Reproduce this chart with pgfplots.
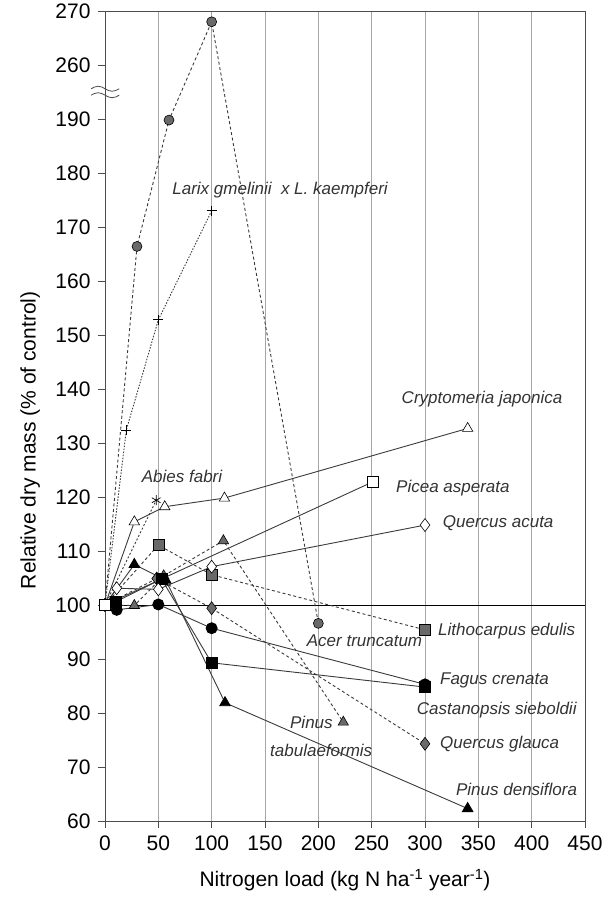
\documentclass[border=0pt]{standalone}
\usepackage{fontspec}
\setmainfont{Liberation Sans}
\usepackage{pgfplots}
\pgfplotsset{compat=1.18}
\definecolor{mgray}{HTML}{696969}
\definecolor{lcol}{HTML}{3A3A3A}
\begin{document}
\begin{tikzpicture}
\useasboundingbox (-105pt,-77pt) rectangle (504pt,821pt);
\begin{axis}[
  at={(0pt,0pt)}, anchor=south west,
  width=480pt, height=810pt, scale only axis,
  xmin=0, xmax=450, ymin=60, ymax=210,
  xtick={0,50,...,450},
  ytick={60,70,...,210},
  yticklabels={60,70,80,90,100,110,120,130,140,150,160,170,180,190,260,270},
  xmajorgrids, grid style={gray!70, line width=0.6pt},
  tick align=outside, major tick length=7pt, tick pos=left,
  axis line style={line width=0.8pt, black!70},
  tick style={black!70, line width=0.8pt},
  ticklabel style={font=\fontsize{21}{24}\selectfont},
  xticklabel style={yshift=-4pt},
  yticklabel style={xshift=-4pt},
  /pgf/number format/assume math mode=true,
  xlabel={Nitrogen load (kg N ha\textsuperscript{-1} year\textsuperscript{-1})},
  ylabel={Relative dry mass (\% of control)},
  label style={font=\fontsize{21}{24}\selectfont},
  xlabel style={at={(axis description cs:0.5,-0.073)}, anchor=center},
  ylabel style={at={(axis description cs:-0.156,0.47)}, anchor=center, rotate=0},
  clip=false,
  every axis plot/.append style={line width=0.9pt},
]
\addplot[black, line width=1pt, forget plot] coordinates {(0,100)(450,100)};
% Acer truncatum
\addplot[lcol, dash pattern=on 3pt off 2.5pt, mark=*, mark size=5pt, mark options={solid, fill=mgray, draw=black, line width=0.6pt}]
  coordinates {(0,100)(30,166.4)(60,189.8)(100,208)(200,96.6)};
% Larix
\addplot[lcol, dash pattern=on 1.5pt off 1.5pt, mark=+, mark size=5pt, mark options={solid, draw=black, line width=0.8pt}]
  coordinates {(0,100)(20,132.4)(50,152.8)(100,173)};
% Abies fabri
\addplot[lcol, dash pattern=on 2pt off 2pt, mark=asterisk, mark size=5pt, mark options={solid, draw=black, line width=0.7pt}]
  coordinates {(0,100)(48,119.4)};
% Lithocarpus edulis
\addplot[lcol, dash pattern=on 3pt off 2.5pt, mark=square*, mark size=5.5pt, mark options={solid, fill=mgray, draw=black, line width=0.6pt}]
  coordinates {(0,100)(50,111.1)(100,105.6)(300,95.4)};
% Pinus tabulaeformis
\addplot[lcol, dash pattern=on 3pt off 2.5pt, mark=triangle*, mark size=6pt, mark options={solid, fill=mgray, draw=black, line width=0.6pt}]
  coordinates {(0,100)(27.5,99.9)(55,105.4)(111,111.9)(223.4,78.3)};
% Quercus glauca
\addplot[lcol, dash pattern=on 3pt off 2.5pt, mark=diamond*, mark size=6.5pt, mark options={solid, fill=mgray, draw=black, line width=0.6pt}]
  coordinates {(0,100)(48.5,104.9)(100,99.4)(300,74.3)};
% Fagus crenata
\addplot[lcol, mark=*, mark size=5.5pt, mark options={solid, fill=black, draw=black}]
  coordinates {(0,100)(11,99.1)(50,100.1)(100,95.7)(300,85.3)};
% Castanopsis sieboldii
\addplot[lcol, mark=square*, mark size=5.5pt, mark options={solid, fill=black, draw=black}]
  coordinates {(0,100)(10,100.6)(53,104.8)(100,89.3)(300,84.8)};
% Pinus densiflora
\addplot[lcol, mark=triangle*, mark size=6pt, mark options={solid, fill=black, draw=black}]
  coordinates {(0,100)(27.5,107.5)(57,104.6)(112.5,81.9)(340,62.3)};
% Cryptomeria japonica
\addplot[lcol, mark=triangle*, mark size=6pt, mark options={solid, fill=white, draw=black, line width=0.6pt}]
  coordinates {(0,100)(27.5,115.4)(56,118.2)(112,119.8)(340,132.7)};
% Quercus acuta
\addplot[lcol, mark=diamond*, mark size=6.5pt, mark options={solid, fill=white, draw=black, line width=0.6pt}]
  coordinates {(0,100)(11,103.1)(50,102.9)(100,107.1)(300,114.8)};
% Picea asperata
\addplot[lcol, mark=square*, mark size=5.5pt, mark options={solid, fill=white, draw=black, line width=0.6pt}]
  coordinates {(251,122.8)(0,100)};
% labels
\tikzset{lab/.style={anchor=west, inner sep=0pt, text=black!80, font=\fontsize{17}{20}\selectfont\itshape}}
\node[lab] at (axis cs:63,176.9) {Larix gmelinii \ x L. kaempferi};
\node[lab] at (axis cs:278,138.1) {Cryptomeria japonica};
\node[lab] at (axis cs:34.4,123.8) {Abies fabri};
\node[lab] at (axis cs:272.8,121.7) {Picea asperata};
\node[lab] at (axis cs:316.6,115.1) {Quercus acuta};
\node[lab] at (axis cs:312.2,95.1) {Lithocarpus edulis};
\node[lab] at (axis cs:189.1,93.4) {Acer truncatum};
\node[lab] at (axis cs:314,86.1) {Fagus crenata};
\node[lab] at (axis cs:292.2,80.6) {Castanopsis sieboldii};
\node[lab] at (axis cs:173.4,78.2) {Pinus};
\node[lab] at (axis cs:154.7,73.1) {tabulaeformis};
\node[lab] at (axis cs:314,74.2) {Quercus glauca};
\node[lab] at (axis cs:329,65.9) {Pinus densiflora};
% axis break
\draw[black!70, line width=0.8pt] (axis cs:-13,195.6) sin ++(7pt,2.5pt) cos ++(7pt,-2.5pt) sin ++(7pt,-2.5pt) cos ++(7pt,2.5pt);
\draw[black!70, line width=0.8pt] (axis cs:-13,194.4) sin ++(7pt,2.5pt) cos ++(7pt,-2.5pt) sin ++(7pt,-2.5pt) cos ++(7pt,2.5pt);
\end{axis}
\end{tikzpicture}
\end{document}
